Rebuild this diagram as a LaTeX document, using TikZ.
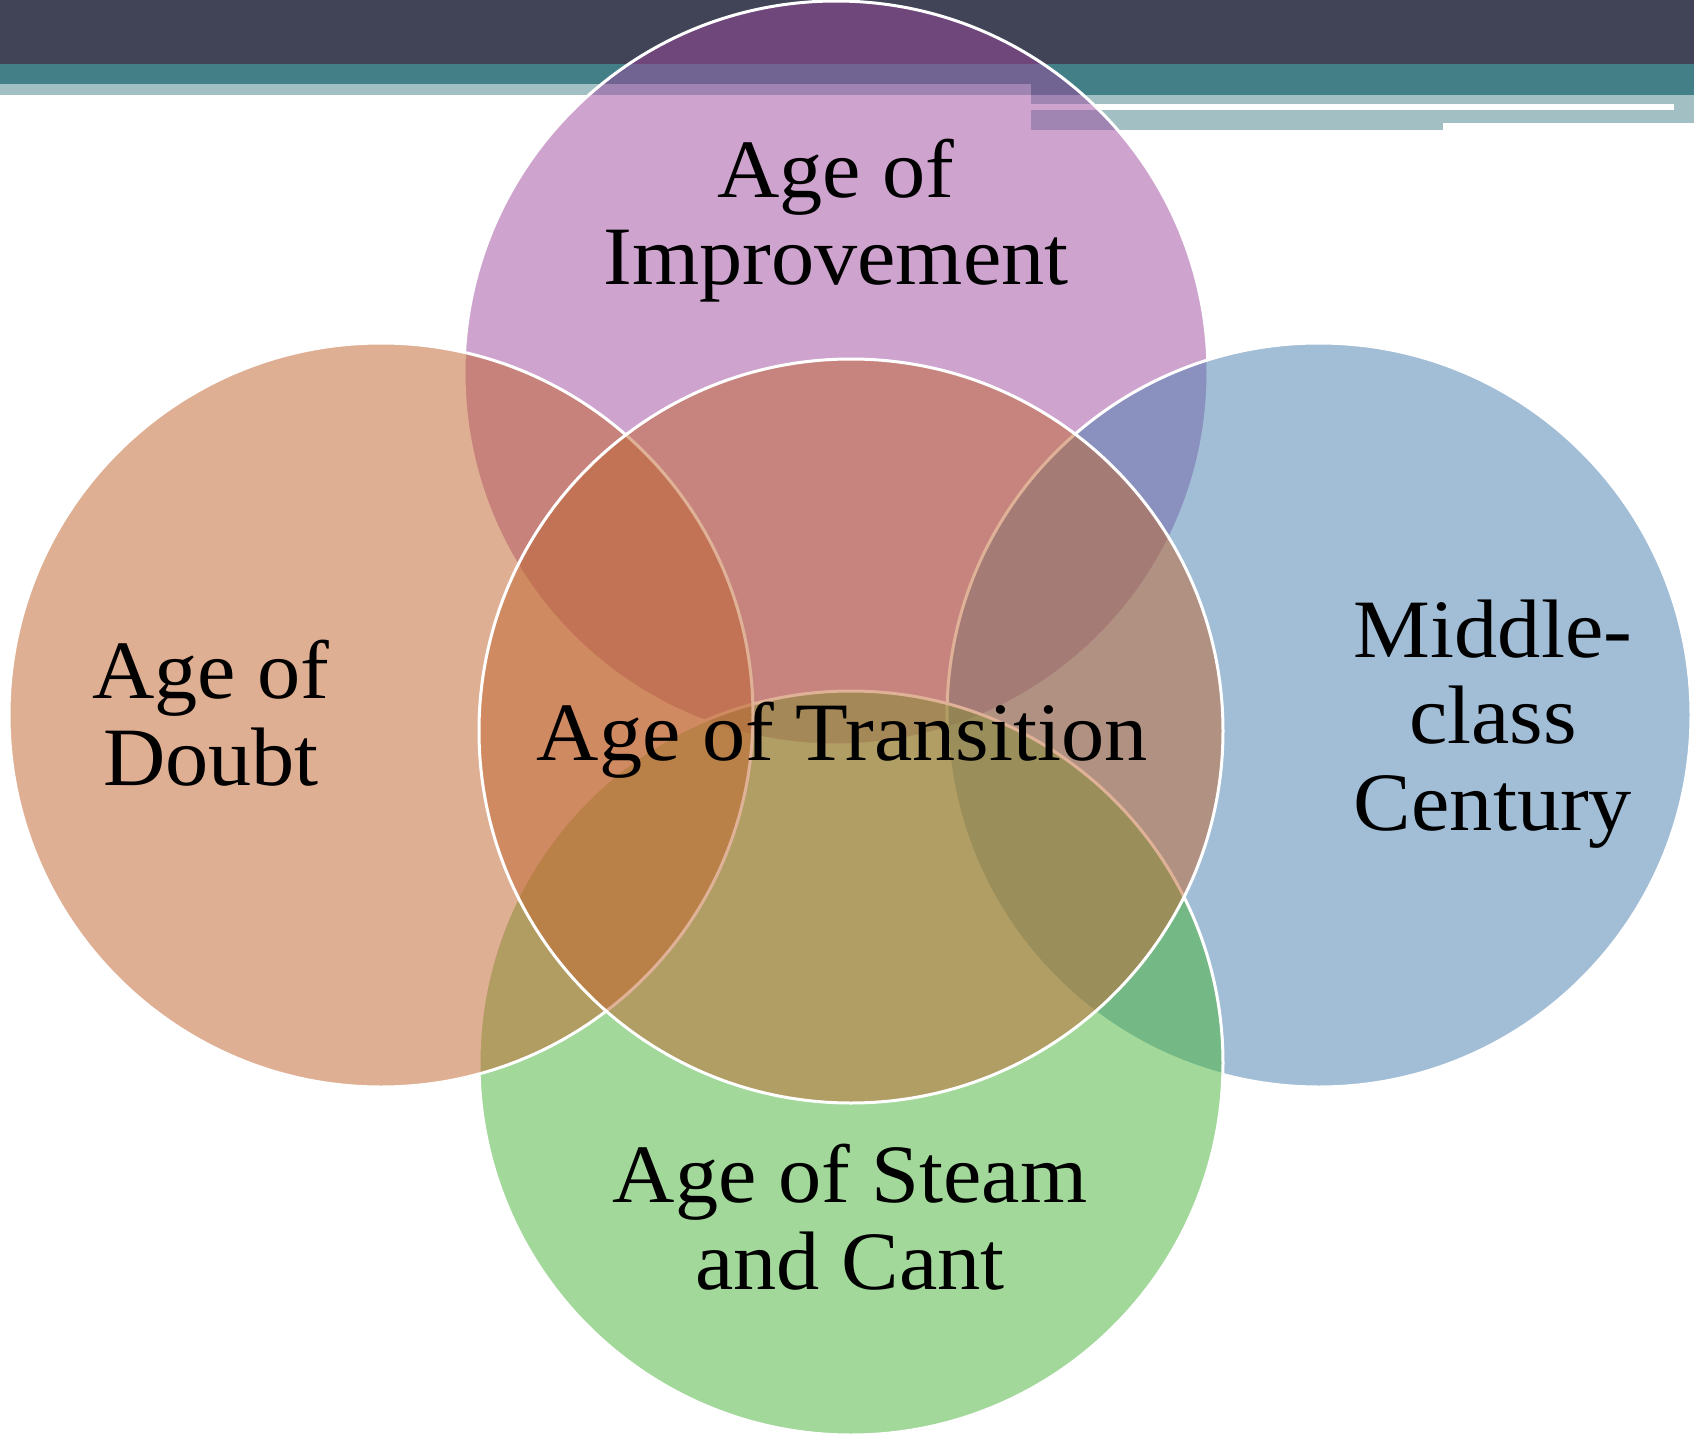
\documentclass[tikz,border=0pt]{standalone}
\usepackage{fontspec}
\setmainfont{Liberation Serif}[FakeStretch=1.04]
\definecolor{hdrDark}{RGB}{65,68,86}
\definecolor{hdrTeal}{RGB}{67,127,134}
\definecolor{hdrLight}{RGB}{162,192,196}
\definecolor{cPurple}{RGB}{159,75,161}
\definecolor{cBlue}{RGB}{71,127,175}
\definecolor{cGreen}{RGB}{71,179,55}
\definecolor{cOrange}{RGB}{193,97,41}
\definecolor{cCenter}{RGB}{193,102,48}
\begin{document}
\begin{tikzpicture}[x=0.5pt,y=-0.5pt,
  venn/.style={circle, draw=white, line width=1.5pt, fill opacity=0.5, draw opacity=1, minimum size=372pt, inner sep=0pt},
  lbl/.style={font=\fontsize{41.5}{43.2}\selectfont, align=center, inner sep=0pt, anchor=base, text=black}]
\useasboundingbox (0,0) rectangle (1694,1440);
\fill[white] (0,0) rectangle (1694,1440);
% header bands
\fill[hdrDark] (0,0) rectangle (1694,64);
\fill[hdrTeal] (0,64) rectangle (1031,84);
\fill[hdrTeal] (1031,64) rectangle (1694,95);
\fill[hdrLight] (0,84) rectangle (1031,95);
\fill[hdrLight] (1031,95) rectangle (1694,123);
\fill[hdrLight] (1031,123) rectangle (1443,130);
\fill[white] (1031,104) rectangle (1674,110);
% circles
\node[venn, fill=cPurple] (improve) at (836,373) {};
\node[venn, fill=cBlue] (middle) at (1319,715) {};
\node[venn, fill=cGreen] (steam) at (851,1063) {};
\node[venn, fill=cOrange] (doubt) at (381,715) {};
\node[venn, fill=cCenter] (transition) at (851,731) {};
% labels (anchor = baseline of last line)
\node[lbl] (timprove) at (836,284) {Age of\\Improvement};
\node[lbl] (tdoubt) at (211,785) {Age of\\Doubt};
\node[lbl] (tmiddle) at (1493,830) {Middle-\\class\\Century};
\node[lbl] (tsteam) at (850,1289) {Age of Steam\\and Cant};
\node[lbl] (ttrans) at (842,760) {Age of Transition};
\end{tikzpicture}
\end{document}
